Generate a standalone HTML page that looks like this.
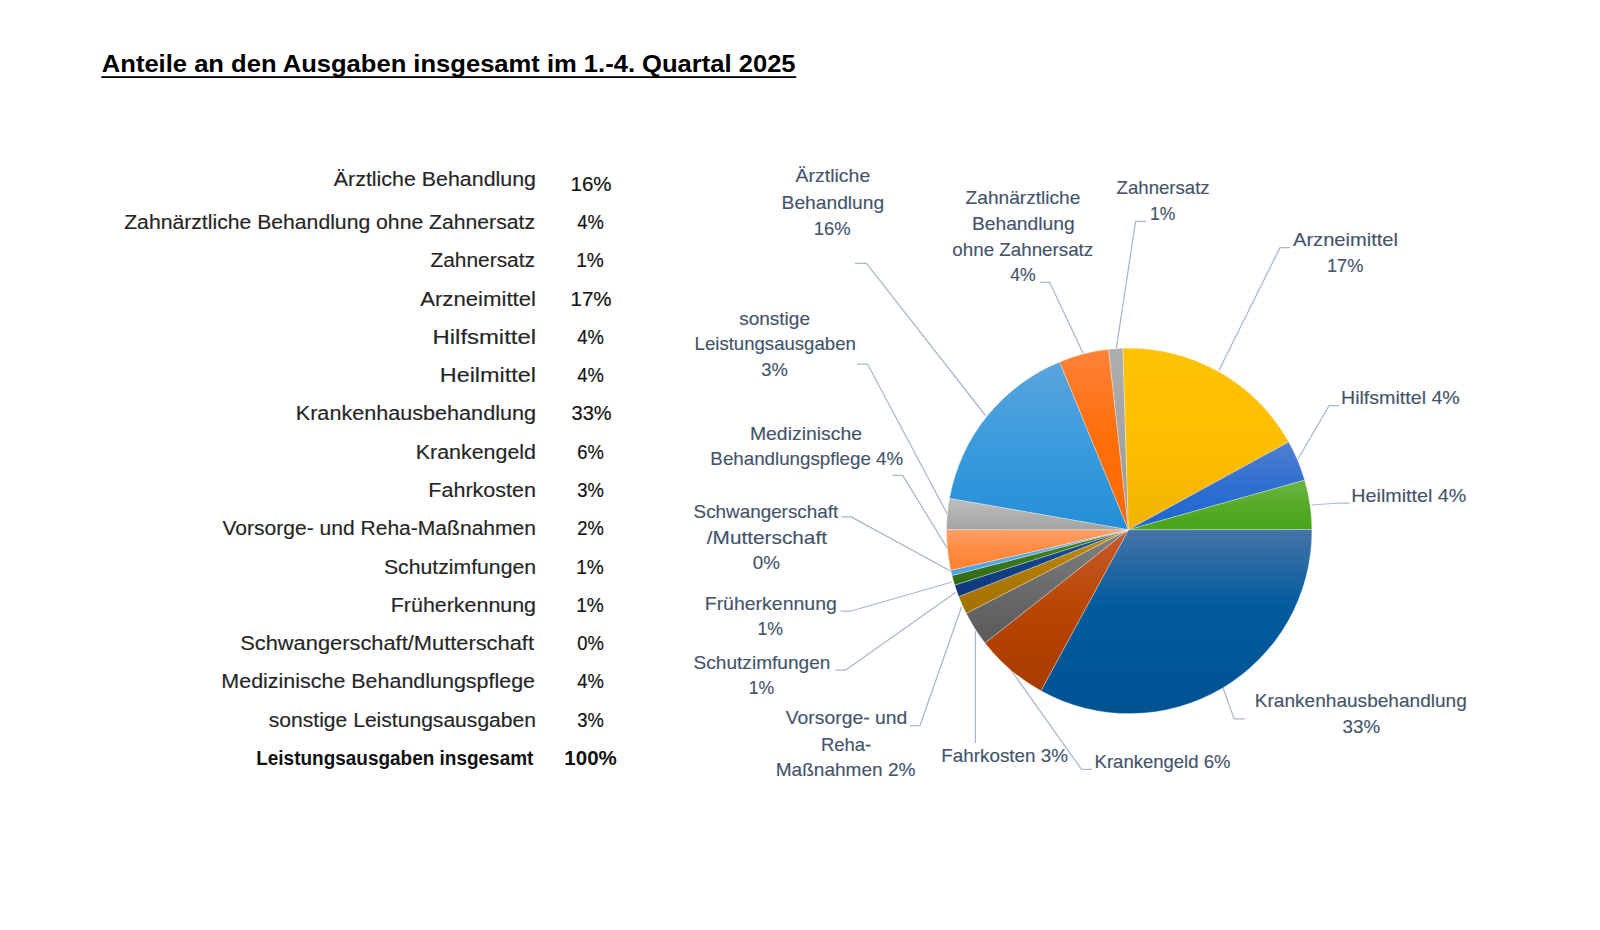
<!DOCTYPE html>
<html lang="de">
<head>
<meta charset="utf-8">
<title>Anteile an den Ausgaben insgesamt im 1.-4. Quartal 2025</title>
<style>
html,body{margin:0;padding:0;background:#fff;}
body{width:1600px;height:930px;overflow:hidden;font-family:"Liberation Sans",sans-serif;}
svg{display:block;}
text{font-family:"Liberation Sans",sans-serif;}
.ti{font-size:24.5px;font-weight:bold;fill:#000;}
.tl{font-size:19.6px;fill:#262626;stroke:#262626;stroke-width:0.15px;}
.tp{font-size:19.6px;fill:#141414;stroke:#141414;stroke-width:0.2px;}
.tb{font-size:19.6px;font-weight:bold;fill:#111;}
.cl{font-size:18.4px;fill:#44546A;stroke:#44546A;stroke-width:0.15px;}
.ld polyline{fill:none;stroke:#A8B7CD;stroke-width:1.25;stroke-linejoin:round;}
.pie path{stroke:#fff;stroke-opacity:0.5;stroke-width:0.6;stroke-linejoin:round;}
</style>
</head>
<body>
<svg width="1600" height="930" viewBox="0 0 1600 930">
<defs>
<linearGradient id="g_aerzt" x1="0" y1="0" x2="0" y2="1"><stop offset="0" stop-color="#5BA4DE"/><stop offset="0.5" stop-color="#3A9BDD"/><stop offset="1" stop-color="#238FD7"/></linearGradient>
<linearGradient id="g_zahnae" x1="0" y1="0" x2="0" y2="1"><stop offset="0" stop-color="#FF8239"/><stop offset="0.5" stop-color="#FF6E08"/><stop offset="1" stop-color="#FF6A00"/></linearGradient>
<linearGradient id="g_zahners" x1="0" y1="0" x2="0" y2="1"><stop offset="0" stop-color="#AEAEAE"/><stop offset="0.5" stop-color="#A4A4A4"/><stop offset="1" stop-color="#9A9A9A"/></linearGradient>
<linearGradient id="g_arznei" x1="0" y1="0" x2="0" y2="1"><stop offset="0" stop-color="#FFC303"/><stop offset="0.5" stop-color="#FFBF00"/><stop offset="1" stop-color="#F0B300"/></linearGradient>
<linearGradient id="g_hilfs" x1="0" y1="0" x2="0" y2="1"><stop offset="0" stop-color="#4F80D0"/><stop offset="0.5" stop-color="#2F6FD0"/><stop offset="1" stop-color="#1C66D2"/></linearGradient>
<linearGradient id="g_heil" x1="0" y1="0" x2="0" y2="1"><stop offset="0" stop-color="#6DB644"/><stop offset="0.5" stop-color="#55AB25"/><stop offset="1" stop-color="#49A51A"/></linearGradient>
<linearGradient id="g_krhaus" x1="0" y1="0" x2="0" y2="1"><stop offset="0" stop-color="#4674A8"/><stop offset="0.42" stop-color="#005C9E"/><stop offset="1" stop-color="#005292"/></linearGradient>
<linearGradient id="g_krgeld" x1="0" y1="0" x2="0" y2="1"><stop offset="0" stop-color="#C75A2D"/><stop offset="0.5" stop-color="#B84500"/><stop offset="1" stop-color="#A83B00"/></linearGradient>
<linearGradient id="g_fahr" x1="0" y1="0" x2="0" y2="1"><stop offset="0" stop-color="#828282"/><stop offset="0.5" stop-color="#6B6B6B"/><stop offset="1" stop-color="#5A5A5A"/></linearGradient>
<linearGradient id="g_vorsorge" x1="0" y1="0" x2="0" y2="1"><stop offset="0" stop-color="#C48E14"/><stop offset="0.5" stop-color="#B07A00"/><stop offset="1" stop-color="#A37000"/></linearGradient>
<linearGradient id="g_schutz" x1="0" y1="0" x2="0" y2="1"><stop offset="0" stop-color="#2A5596"/><stop offset="0.5" stop-color="#114188"/><stop offset="1" stop-color="#0D397B"/></linearGradient>
<linearGradient id="g_frueh" x1="0" y1="0" x2="0" y2="1"><stop offset="0" stop-color="#4F8A33"/><stop offset="0.5" stop-color="#3A781B"/><stop offset="1" stop-color="#326A16"/></linearGradient>
<linearGradient id="g_schwang" x1="0" y1="0" x2="0" y2="1"><stop offset="0" stop-color="#7DB8EA"/><stop offset="0.5" stop-color="#5BA9E8"/><stop offset="1" stop-color="#4A9FE4"/></linearGradient>
<linearGradient id="g_mediz" x1="0" y1="0" x2="0" y2="1"><stop offset="0" stop-color="#FF9F68"/><stop offset="0.5" stop-color="#FF8B42"/><stop offset="1" stop-color="#FF7F2E"/></linearGradient>
<linearGradient id="g_sonst" x1="0" y1="0" x2="0" y2="1"><stop offset="0" stop-color="#BEBEBE"/><stop offset="0.5" stop-color="#B0B0B0"/><stop offset="1" stop-color="#A2A2A2"/></linearGradient>
</defs>
<rect x="0" y="0" width="1600" height="930" fill="#fff"/>
<rect x="101.3" y="76.2" width="694.9" height="1.8" fill="#000"/>
<g class="ld">
<polyline points="855.0,263.3 866.5,263.3 985.5,415.5"/>
<polyline points="857.0,364.0 867.5,364.0 947.0,513.5"/>
<polyline points="1039.7,282.3 1049.6,282.3 1083.2,353.5"/>
<polyline points="1146.0,221.3 1135.6,221.3 1116.3,348.5"/>
<polyline points="1290.0,247.6 1280.1,247.6 1218.8,370.5"/>
<polyline points="1339.0,405.7 1329.0,405.7 1298.0,459.0"/>
<polyline points="1349.3,503.0 1339.0,503.0 1311.5,505.0"/>
<polyline points="1244.8,718.9 1234.1,718.9 1222.8,687.3"/>
<polyline points="1091.6,769.3 1081.5,769.3 1010.7,669.7"/>
<polyline points="975.4,743.0 975.4,631.0"/>
<polyline points="909.8,725.5 920.0,725.5 961.5,607.0"/>
<polyline points="835.4,670.2 845.4,670.2 955.5,592.5"/>
<polyline points="840.5,611.0 851.2,611.0 952.0,582.0"/>
<polyline points="841.3,516.9 851.2,516.9 951.0,571.2"/>
<polyline points="892.4,475.3 902.6,475.3 947.5,548.7"/>
</g>
<g class="pie">
<path d="M1128.40 529.80L949.41 498.40A182.7 182.7 0 0 1 1059.63 361.97Z" fill="url(#g_aerzt)"/>
<path d="M1128.40 529.80L1059.63 361.97A182.7 182.7 0 0 1 1108.60 349.37Z" fill="url(#g_zahnae)"/>
<path d="M1128.40 529.80L1108.60 349.37A182.7 182.7 0 0 1 1122.91 348.31Z" fill="url(#g_zahners)"/>
<path d="M1128.40 529.80L1122.91 348.31A182.7 182.7 0 0 1 1288.77 441.92Z" fill="url(#g_arznei)"/>
<path d="M1128.40 529.80L1288.77 441.92A182.7 182.7 0 0 1 1304.71 480.14Z" fill="url(#g_hilfs)"/>
<path d="M1128.40 529.80L1304.71 480.14A182.7 182.7 0 0 1 1311.90 529.60Z" fill="url(#g_heil)"/>
<path d="M1128.40 529.80L1311.90 529.60A182.7 182.7 0 0 1 1040.90 690.84Z" fill="url(#g_krhaus)"/>
<path d="M1128.40 529.80L1040.90 690.84A182.7 182.7 0 0 1 984.94 643.01Z" fill="url(#g_krgeld)"/>
<path d="M1128.40 529.80L984.94 643.01A182.7 182.7 0 0 1 966.17 613.37Z" fill="url(#g_fahr)"/>
<path d="M1128.40 529.80L966.17 613.37A182.7 182.7 0 0 1 958.68 596.49Z" fill="url(#g_vorsorge)"/>
<path d="M1128.40 529.80L958.68 596.49A182.7 182.7 0 0 1 954.72 585.10Z" fill="url(#g_schutz)"/>
<path d="M1128.40 529.80L954.72 585.10A182.7 182.7 0 0 1 952.03 575.49Z" fill="url(#g_frueh)"/>
<path d="M1128.40 529.80L952.03 575.49A182.7 182.7 0 0 1 950.80 570.30Z" fill="url(#g_schwang)"/>
<path d="M1128.40 529.80L950.80 570.30A182.7 182.7 0 0 1 946.50 529.60Z" fill="url(#g_mediz)"/>
<path d="M1128.40 529.80L946.50 529.60A182.7 182.7 0 0 1 949.41 498.40Z" fill="url(#g_sonst)"/>
</g>
<g>
<text class="ti" x="101.80" y="72.0" textLength="693.80" lengthAdjust="spacingAndGlyphs">Anteile an den Ausgaben insgesamt im 1.-4. Quartal 2025</text>
<text class="tl" x="333.80" y="185.6" textLength="202.21" lengthAdjust="spacingAndGlyphs">Ärztliche Behandlung</text>
<text class="tp" x="570.51" y="191.0" textLength="41.11" lengthAdjust="spacingAndGlyphs">16%</text>
<text class="tl" x="124.20" y="229.2" textLength="410.80" lengthAdjust="spacingAndGlyphs">Zahnärztliche Behandlung ohne Zahnersatz</text>
<text class="tp" x="577.20" y="229.2" textLength="26.60" lengthAdjust="spacingAndGlyphs">4%</text>
<text class="tl" x="430.40" y="267.4" textLength="104.61" lengthAdjust="spacingAndGlyphs">Zahnersatz</text>
<text class="tp" x="576.13" y="267.4" textLength="27.67" lengthAdjust="spacingAndGlyphs">1%</text>
<text class="tl" x="420.19" y="305.7" textLength="115.83" lengthAdjust="spacingAndGlyphs">Arzneimittel</text>
<text class="tp" x="570.51" y="305.7" textLength="41.11" lengthAdjust="spacingAndGlyphs">17%</text>
<text class="tl" x="432.52" y="343.9" textLength="103.54" lengthAdjust="spacingAndGlyphs">Hilfsmittel</text>
<text class="tp" x="577.20" y="343.9" textLength="26.60" lengthAdjust="spacingAndGlyphs">4%</text>
<text class="tl" x="439.72" y="382.2" textLength="96.35" lengthAdjust="spacingAndGlyphs">Heilmittel</text>
<text class="tp" x="577.20" y="382.2" textLength="26.60" lengthAdjust="spacingAndGlyphs">4%</text>
<text class="tl" x="295.78" y="420.4" textLength="240.24" lengthAdjust="spacingAndGlyphs">Krankenhausbehandlung</text>
<text class="tp" x="571.58" y="420.4" textLength="40.03" lengthAdjust="spacingAndGlyphs">33%</text>
<text class="tl" x="415.73" y="458.7" textLength="120.31" lengthAdjust="spacingAndGlyphs">Krankengeld</text>
<text class="tp" x="577.20" y="458.7" textLength="26.60" lengthAdjust="spacingAndGlyphs">6%</text>
<text class="tl" x="428.36" y="496.9" textLength="107.68" lengthAdjust="spacingAndGlyphs">Fahrkosten</text>
<text class="tp" x="577.20" y="496.9" textLength="26.60" lengthAdjust="spacingAndGlyphs">3%</text>
<text class="tl" x="222.40" y="535.2" textLength="313.61" lengthAdjust="spacingAndGlyphs">Vorsorge- und Reha-Maßnahmen</text>
<text class="tp" x="577.20" y="535.2" textLength="26.60" lengthAdjust="spacingAndGlyphs">2%</text>
<text class="tl" x="383.97" y="573.5" textLength="152.06" lengthAdjust="spacingAndGlyphs">Schutzimfungen</text>
<text class="tp" x="576.13" y="573.5" textLength="27.67" lengthAdjust="spacingAndGlyphs">1%</text>
<text class="tl" x="390.75" y="611.7" textLength="145.29" lengthAdjust="spacingAndGlyphs">Früherkennung</text>
<text class="tp" x="576.13" y="611.7" textLength="27.67" lengthAdjust="spacingAndGlyphs">1%</text>
<text class="tl" x="240.20" y="650.0" textLength="293.80" lengthAdjust="spacingAndGlyphs">Schwangerschaft/Mutterschaft</text>
<text class="tp" x="577.20" y="650.0" textLength="26.60" lengthAdjust="spacingAndGlyphs">0%</text>
<text class="tl" x="221.39" y="688.2" textLength="313.62" lengthAdjust="spacingAndGlyphs">Medizinische Behandlungspflege</text>
<text class="tp" x="577.20" y="688.2" textLength="26.60" lengthAdjust="spacingAndGlyphs">4%</text>
<text class="tl" x="268.80" y="726.5" textLength="267.22" lengthAdjust="spacingAndGlyphs">sonstige Leistungsausgaben</text>
<text class="tp" x="577.20" y="726.5" textLength="26.60" lengthAdjust="spacingAndGlyphs">3%</text>
<text class="tb" x="256.19" y="764.7" textLength="277.21" lengthAdjust="spacingAndGlyphs">Leistungsausgaben insgesamt</text>
<text class="tb" x="564.35" y="764.7" textLength="52.46" lengthAdjust="spacingAndGlyphs">100%</text>
<text class="cl" x="795.60" y="182.3" textLength="74.62" lengthAdjust="spacingAndGlyphs">Ärztliche</text>
<text class="cl" x="781.57" y="208.6" textLength="102.65" lengthAdjust="spacingAndGlyphs">Behandlung</text>
<text class="cl" x="813.71" y="234.7" textLength="36.91" lengthAdjust="spacingAndGlyphs">16%</text>
<text class="cl" x="739.18" y="324.7" textLength="70.83" lengthAdjust="spacingAndGlyphs">sonstige</text>
<text class="cl" x="694.58" y="350.3" textLength="161.24" lengthAdjust="spacingAndGlyphs">Leistungsausgaben</text>
<text class="cl" x="761.27" y="375.8" textLength="26.62" lengthAdjust="spacingAndGlyphs">3%</text>
<text class="cl" x="965.59" y="204.4" textLength="114.83" lengthAdjust="spacingAndGlyphs">Zahnärztliche</text>
<text class="cl" x="971.96" y="230.4" textLength="102.65" lengthAdjust="spacingAndGlyphs">Behandlung</text>
<text class="cl" x="952.38" y="256.2" textLength="140.83" lengthAdjust="spacingAndGlyphs">ohne Zahnersatz</text>
<text class="cl" x="1010.18" y="281.0" textLength="25.46" lengthAdjust="spacingAndGlyphs">4%</text>
<text class="cl" x="1116.60" y="194.4" textLength="93.01" lengthAdjust="spacingAndGlyphs">Zahnersatz</text>
<text class="cl" x="1149.93" y="220.2" textLength="25.32" lengthAdjust="spacingAndGlyphs">1%</text>
<text class="cl" x="1292.99" y="246.3" textLength="105.02" lengthAdjust="spacingAndGlyphs">Arzneimittel</text>
<text class="cl" x="1326.92" y="272.4" textLength="36.49" lengthAdjust="spacingAndGlyphs">17%</text>
<text class="cl" x="1340.98" y="404.1" textLength="118.83" lengthAdjust="spacingAndGlyphs">Hilfsmittel 4%</text>
<text class="cl" x="1351.37" y="502.4" textLength="114.83" lengthAdjust="spacingAndGlyphs">Heilmittel 4%</text>
<text class="cl" x="1254.77" y="706.8" textLength="212.04" lengthAdjust="spacingAndGlyphs">Krankenhausbehandlung</text>
<text class="cl" x="1342.52" y="733.0" textLength="37.55" lengthAdjust="spacingAndGlyphs">33%</text>
<text class="cl" x="1094.58" y="767.9" textLength="135.83" lengthAdjust="spacingAndGlyphs">Krankengeld 6%</text>
<text class="cl" x="941.37" y="762.2" textLength="126.64" lengthAdjust="spacingAndGlyphs">Fahrkosten 3%</text>
<text class="cl" x="785.80" y="723.9" textLength="121.42" lengthAdjust="spacingAndGlyphs">Vorsorge- und</text>
<text class="cl" x="820.95" y="750.5" textLength="50.30" lengthAdjust="spacingAndGlyphs">Reha-</text>
<text class="cl" x="775.77" y="776.0" textLength="139.64" lengthAdjust="spacingAndGlyphs">Maßnahmen 2%</text>
<text class="cl" x="693.58" y="668.9" textLength="136.83" lengthAdjust="spacingAndGlyphs">Schutzimfungen</text>
<text class="cl" x="748.68" y="694.4" textLength="25.53" lengthAdjust="spacingAndGlyphs">1%</text>
<text class="cl" x="704.74" y="609.7" textLength="132.10" lengthAdjust="spacingAndGlyphs">Früherkennung</text>
<text class="cl" x="757.47" y="635.2" textLength="25.53" lengthAdjust="spacingAndGlyphs">1%</text>
<text class="cl" x="693.59" y="517.5" textLength="144.61" lengthAdjust="spacingAndGlyphs">Schwangerschaft</text>
<text class="cl" x="706.80" y="543.8" textLength="120.20" lengthAdjust="spacingAndGlyphs">/Mutterschaft</text>
<text class="cl" x="752.70" y="569.4" textLength="27.17" lengthAdjust="spacingAndGlyphs">0%</text>
<text class="cl" x="749.95" y="439.5" textLength="112.06" lengthAdjust="spacingAndGlyphs">Medizinische</text>
<text class="cl" x="710.39" y="465.3" textLength="192.82" lengthAdjust="spacingAndGlyphs">Behandlungspflege 4%</text>
</g>
</svg>
</body>
</html>
